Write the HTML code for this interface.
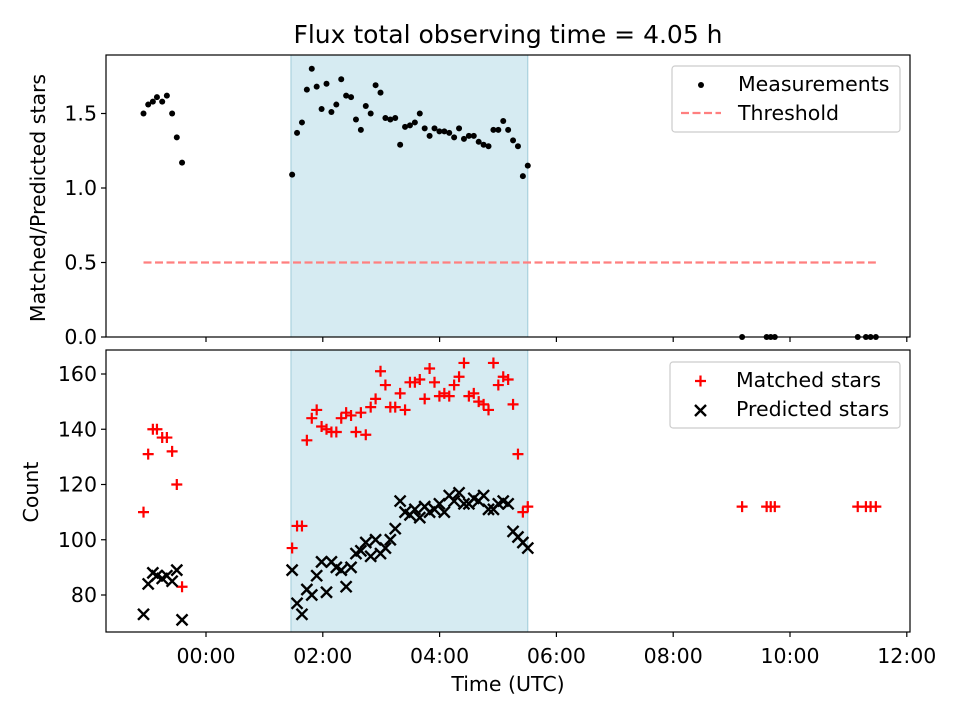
<!DOCTYPE html>
<html><head><meta charset="utf-8"><style>
body{margin:0;background:#fff;}
svg text{font-family:"DejaVu Sans","Liberation Sans",sans-serif;fill:#000;}
</style></head><body>
<svg id="chart" width="960" height="720" xmlns="http://www.w3.org/2000/svg"></svg>
<script>
const earlyTimes=[-1.07,-0.99,-0.91,-0.84,-0.75,-0.67,-0.58,-0.50,-0.41];
const earlyRatio=[1.50,1.56,1.58,1.61,1.58,1.62,1.50,1.34,1.17];
const earlyMatched=[110,131,140,140,137,137,132,120,83];
const earlyPredicted=[73,84,88,87,86,87,85,89,71];
const spanStart=1.455, spanEnd=5.51;
const spanRatio=[1.09,1.37,1.44,1.66,1.80,1.68,1.53,1.70,1.51,1.56,1.73,1.62,1.61,1.46,1.39,1.55,1.50,1.69,1.64,1.47,1.46,1.47,1.29,1.41,1.42,1.44,1.50,1.40,1.35,1.40,1.38,1.38,1.37,1.34,1.40,1.33,1.35,1.35,1.31,1.29,1.28,1.39,1.39,1.45,1.39,1.32,1.28,1.08,1.15];
const spanMatched=[97,105,105,136,144,147,141,140,139,139,144,146,145,139,146,138,148,151,161,156,148,148,153,147,157,157,158,151,162,157,152,153,152,156,159,164,152,153,150,149,147,164,156,159,158,149,131,110,112];
const spanPredicted=[89,77,73,82,80,87,92,81,92,90,89,83,90,95,96,99,94,100,95,97,100,104,114,110,109,111,108,112,110,111,113,110,116,114,117,113,113,115,114,116,111,111,113,114,113,103,101,99,97];
const lateTimes=[9.18,9.60,9.67,9.74,11.16,11.30,11.38,11.47];
const lateRatio=[0,0,0,0,0,0,0,0];
const lateMatched=[112,112,112,112,112,112,112,112];
const threshold=0.5, thrStart=-1.07, thrEnd=11.47;
const xTicks=[0,2,4,6,8,10,12];
const xTickLabels=["00:00","02:00","04:00","06:00","08:00","10:00","12:00"];
const topTicks=[0,0.5,1.0,1.5];
const topTickLabels=["0.0","0.5","1.0","1.5"];
const botTicks=[80,100,120,140,160];
const botTickLabels=["80","100","120","140","160"];

const svg=document.getElementById('chart');
const NS="http://www.w3.org/2000/svg";
const FS='20.5px';
function el(tag,attrs,parent){const e=document.createElementNS(NS,tag);for(const k in attrs)e.setAttribute(k,attrs[k]);(parent||svg).appendChild(e);return e;}
const L=106,R=910;
const x=h=>206+h*58.4;
const T1=55,B1=337,T2=350,B2=632;
const yTop=v=>337-v*149;
const yBot=v=>595-(v-80)*2.7625;
const n=spanRatio.length;
const spanTimes=spanRatio.map((_,i)=>spanStart+0.02+i*(spanEnd-spanStart-0.02)/(n-1));

el('text',{x:508,y:43,style:'font-size:25px','text-anchor':'middle',}).textContent="Flux total observing time = 4.05 h";

function panel(T,B,name){
  const span=el('rect',{x:x(spanStart),y:T,width:x(spanEnd)-x(spanStart),height:B-T,fill:'#add8e6','fill-opacity':'0.5',stroke:'#9fcbd9','stroke-width':1});
  
  
  xTicks.forEach((t,i)=>{
    const tk=el('line',{x1:x(t),x2:x(t),y1:B,y2:B+5,stroke:'#000','stroke-width':1.2});
    
    
  });
}
panel(T1,B1,'top');
panel(T2,B2,'bottom');

const thr=el('line',{x1:x(thrStart),x2:x(thrEnd),y1:yTop(threshold),y2:yTop(threshold),stroke:'#ff7f7f','stroke-width':2.2,'stroke-dasharray':'8,3.5'});


function dot(t,v){const c=el('circle',{cx:x(t),cy:yTop(v),r:3,fill:'#000'});
  
  }
earlyTimes.forEach((t,i)=>dot(t,earlyRatio[i]));
spanTimes.forEach((t,i)=>dot(t,spanRatio[i]));
lateTimes.forEach((t,i)=>dot(t,lateRatio[i]));

function plus(t,v){const g=el('path',{d:`M${x(t)-5.5},${yBot(v)}h11M${x(t)},${yBot(v)-5.5}v11`,stroke:'#f00','stroke-width':2.2});
  
  }
function cross(t,v){const X=x(t),Y=yBot(v);const g=el('path',{d:`M${X-5.5},${Y-5.5}L${X+5.5},${Y+5.5}M${X-5.5},${Y+5.5}L${X+5.5},${Y-5.5}`,stroke:'#000','stroke-width':2.4});
  
  }
earlyTimes.forEach((t,i)=>plus(t,earlyMatched[i]));
spanTimes.forEach((t,i)=>plus(t,spanMatched[i]));
lateTimes.forEach((t,i)=>plus(t,lateMatched[i]));
earlyTimes.forEach((t,i)=>cross(t,earlyPredicted[i]));
spanTimes.forEach((t,i)=>cross(t,spanPredicted[i]));

[[T1,B1,'top'],[T2,B2,'bottom']].forEach(([T,B,nm])=>{
  const f=el('rect',{x:L,y:T,width:R-L,height:B-T,fill:'none',stroke:'#000','stroke-width':1.2});
  
  
});
topTicks.forEach((v,i)=>{
  el('line',{x1:L-5,x2:L,y1:yTop(v),y2:yTop(v),stroke:'#000','stroke-width':1.2});
  const t=el('text',{x:L-9,y:yTop(v)+7,style:'font-size:'+FS,'text-anchor':'end'});
  
  
  t.textContent=topTickLabels[i];
});
botTicks.forEach((v,i)=>{
  el('line',{x1:L-5,x2:L,y1:yBot(v),y2:yBot(v),stroke:'#000','stroke-width':1.2});
  const t=el('text',{x:L-9,y:yBot(v)+7,style:'font-size:'+FS,'text-anchor':'end'});
  
  
  t.textContent=botTickLabels[i];
});
xTicks.forEach((v,i)=>{
  const t=el('text',{x:x(v),y:B2+31,style:'font-size:'+FS,'text-anchor':'middle'});
  
  
  t.textContent=xTickLabels[i];
});
el('text',{x:508,y:691,style:'font-size:'+FS,'text-anchor':'middle',}).textContent="Time (UTC)";
el('text',{x:0,y:0,style:'font-size:'+FS,'text-anchor':'middle',transform:`translate(45,198) rotate(-90)`,}).textContent="Matched/Predicted stars";
el('text',{x:0,y:0,style:'font-size:'+FS,'text-anchor':'middle',transform:`translate(38,492) rotate(-90)`,}).textContent="Count";

el('rect',{x:672,y:66,width:228,height:66,rx:3,fill:'#fff','fill-opacity':0.8,stroke:'#ccc','stroke-width':1.2,});
el('circle',{cx:701,cy:85,r:3,fill:'#000',});
el('text',{x:738,y:91,style:'font-size:'+FS,}).textContent="Measurements";
el('line',{x1:681,x2:721,y1:113,y2:113,stroke:'#ff7f7f','stroke-width':2.2,'stroke-dasharray':'8,3.5',});
el('text',{x:738,y:120,style:'font-size:'+FS,}).textContent="Threshold";

el('rect',{x:670,y:362,width:230,height:66,rx:3,fill:'#fff','fill-opacity':0.8,stroke:'#ccc','stroke-width':1.2,});
el('path',{d:'M695,381h11M700.5,375.5v11',stroke:'#f00','stroke-width':2.2,});
el('text',{x:736,y:387,style:'font-size:'+FS,}).textContent="Matched stars";
el('path',{d:'M695,405L706,416M695,416L706,405',stroke:'#000','stroke-width':2.4,});
el('text',{x:736,y:416,style:'font-size:'+FS,}).textContent="Predicted stars";
</script>
</body></html>
